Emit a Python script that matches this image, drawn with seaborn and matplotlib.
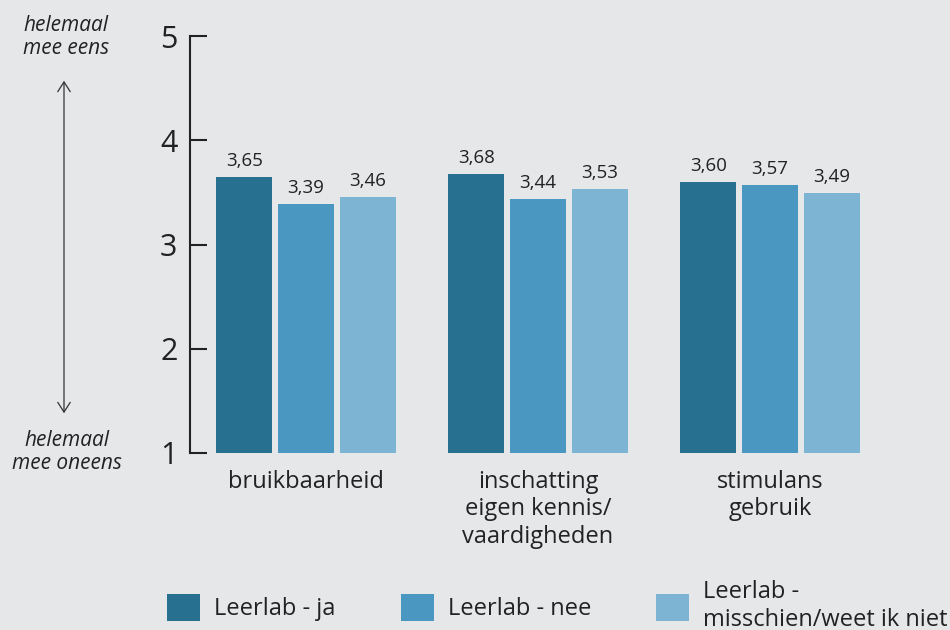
import matplotlib
matplotlib.use("Agg")
import matplotlib.pyplot as plt
import seaborn as sns
import pandas as pd
from matplotlib.patches import Patch

categories = ["bruikbaarheid", "inschatting\neigen kennis/\nvaardigheden", "stimulans\ngebruik"]
series = ["Leerlab - ja", "Leerlab - nee", "Leerlab -\nmisschien/weet ik niet"]
values_ja = [3.65, 3.68, 3.60]
values_nee = [3.39, 3.44, 3.57]
values_misschien = [3.46, 3.53, 3.49]
yticks = [1, 2, 3, 4, 5]
colors = ["#27708f", "#4a98c1", "#7db4d4"]
bg = "#e6e7e9"

rows = []
for s, vals in zip(series, [values_ja, values_nee, values_misschien]):
    for c, v in zip(categories, vals):
        rows.append({"cat": c, "serie": s, "val": v})
df = pd.DataFrame(rows)

sns.set_style("white")
plt.rcParams["font.family"] = ["Open Sans", "DejaVu Sans"]

fig = plt.figure(figsize=(9.5, 6.3), dpi=100, facecolor=bg)
ax = fig.add_axes([190/950, 1-453/630, (886-190)/950, (453-36)/630])
ax.set_facecolor(bg)

sns.barplot(data=df, x="cat", y="val", hue="serie", order=categories,
            hue_order=series, palette=colors, width=0.8, gap=0.1,
            saturation=1, ax=ax, legend=False, errorbar=None, linewidth=0)

ax.set_ylim(1, 5)
ax.set_xlim(-0.5, 2.5)
ax.set_yticks(yticks)
ax.set_yticklabels([str(t) for t in yticks])
ax.set_xlabel("")
ax.set_ylabel("")

for sp in ["top", "right", "bottom"]:
    ax.spines[sp].set_visible(False)
ax.spines["left"].set_color("#222222")
ax.spines["left"].set_linewidth(1.5)
ax.tick_params(axis="y", left=True, direction="in", length=12, width=1.5, color="#222222",
               labelsize=22, pad=9, labelcolor="#222222")
ax.tick_params(axis="x", bottom=False, length=0, labelsize=17, pad=12, labelcolor="#222222")

for cont in ax.containers:
    labels = [f"{b.get_height():.2f}".replace(".", ",") for b in cont]
    ax.bar_label(cont, labels=labels, padding=5, fontsize=13.5, color="#222222")

# left annotation
fig.text(66/950, 1-37/630, "helemaal\nmee eens", ha="center", va="center",
         style="italic", fontsize=15, color="#222222", linespacing=1.1)
fig.text(67/950, 1-452/630, "helemaal\nmee oneens", ha="center", va="center",
         style="italic", fontsize=15, color="#222222", linespacing=1.1)
fig.add_artist(matplotlib.patches.FancyArrowPatch(
    (64/950, 1-78/630), (64/950, 1-416/630), transform=fig.transFigure,
    arrowstyle="<->,head_length=7,head_width=4.5", lw=0.9, color="#333333"))

handles = [Patch(facecolor=c, edgecolor="none") for c in colors]
fig.legend(handles, series, loc="center left", bbox_to_anchor=(167/950, 1-606/630),
           ncol=3, frameon=False, fontsize=17, handlelength=1.4, handleheight=1.4,
           handletextpad=0.6, columnspacing=2.75, borderpad=0, borderaxespad=0,
           labelcolor="#222222")

fig.savefig("out.png", dpi=100, facecolor=bg)
